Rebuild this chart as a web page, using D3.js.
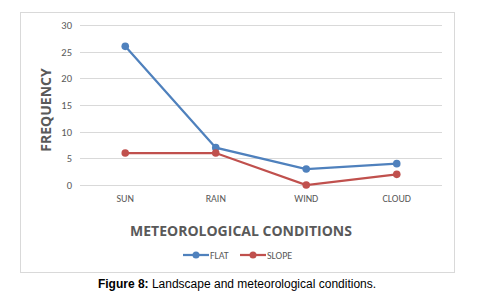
<!DOCTYPE html>
<html>
<head>
<meta charset="utf-8">
<script src="https://cdn.jsdelivr.net/npm/d3@7"></script>
<style>
  body { margin: 0; background: #fff; }
  svg { display: block; }
</style>
</head>
<body>
<div id="chart"></div>
<script>
// chart data
const categories = ["SUN", "RAIN", "WIND", "CLOUD"];
const flatValues = [26, 7, 3, 4];
const slopeValues = [6, 6, 0, 2];
const yTicks = [0, 5, 10, 15, 20, 25, 30];
const seriesNames = ["FLAT", "SLOPE"];

const width = 478, height = 296;
const svg = d3.select("#chart").append("svg")
    .attr("width", width)
    .attr("height", height);

// chart frame
svg.append("rect")
    .attr("x", 20.5).attr("y", 12.5)
    .attr("width", 434).attr("height", 260)
    .attr("fill", "#fff")
    .attr("stroke", "#d9d9d9")
    .attr("stroke-width", 1);

const x = d3.scaleBand().domain(categories).range([80, 442]);
const y = d3.scaleLinear().domain([0, 30]).range([185, 25]);

// gridlines
svg.append("g")
    .selectAll("line")
    .data(yTicks)
    .join("line")
    .attr("x1", 80).attr("x2", 442)
    .attr("y1", d => Math.round(y(d)) + 0.5)
    .attr("y2", d => Math.round(y(d)) + 0.5)
    .attr("stroke", "#d9d9d9");

// y axis labels
const yAxis = d3.axisLeft(y).tickValues(yTicks).tickSize(0).tickPadding(0);
svg.append("g")
    .attr("transform", "translate(72,0)")
    .call(yAxis)
    .call(g => g.select(".domain").remove())
    .call(g => g.selectAll("text")
        .attr("fill", "#595959")
        .style("font-family", "Calibri, Carlito, 'Open Sans', sans-serif")
        .style("font-size", "10.5px"));

// x axis labels
const xAxis = d3.axisBottom(x).tickSize(0).tickPadding(0);
svg.append("g")
    .attr("transform", "translate(0,195)")
    .call(xAxis)
    .call(g => g.select(".domain").remove())
    .call(g => g.selectAll("text")
        .attr("fill", "#595959")
        .style("font-family", "Calibri, Carlito, 'Open Sans', sans-serif")
        .style("font-size", "10px"));

// axis titles
svg.append("text")
    .attr("transform", "translate(51,110) rotate(-90)")
    .attr("text-anchor", "middle")
    .attr("fill", "#595959")
    .style("font-family", "'Open Sans', sans-serif")
    .style("font-size", "14px")
    .style("font-weight", "bold")
    .text("FREQUENCY");

svg.append("text")
    .attr("x", 241).attr("y", 236)
    .attr("text-anchor", "middle")
    .attr("fill", "#595959")
    .style("font-family", "'Open Sans', sans-serif")
    .style("font-size", "14px")
    .style("font-weight", "bold")
    .text("METEOROLOGICAL CONDITIONS");

// series
const colors = { FLAT: "#4f81bd", SLOPE: "#c0504d" };
const series = [
    { name: "FLAT", values: flatValues },
    { name: "SLOPE", values: slopeValues }
];
const cx = c => x(c) + x.bandwidth() / 2;
const line = d3.line()
    .x((d, i) => cx(categories[i]))
    .y(d => y(d));

series.forEach(s => {
    svg.append("path")
        .datum(s.values)
        .attr("d", line)
        .attr("fill", "none")
        .attr("stroke", colors[s.name])
        .attr("stroke-width", 2.25);
    svg.append("g")
        .selectAll("circle")
        .data(s.values)
        .join("circle")
        .attr("cx", (d, i) => cx(categories[i]))
        .attr("cy", d => y(d))
        .attr("r", 3.8)
        .attr("fill", colors[s.name]);
});

// legend
const legend = svg.append("g").attr("transform", "translate(183,255)");
seriesNames.forEach((name, i) => {
    const g = legend.append("g").attr("transform", `translate(${i * 57},0)`);
    g.append("line")
        .attr("x1", 0).attr("x2", 26)
        .attr("stroke", colors[name])
        .attr("stroke-width", 2.25);
    g.append("circle").attr("cx", 13).attr("r", 3.5).attr("fill", colors[name]);
    g.append("text")
        .attr("x", 27).attr("y", 3.5)
        .attr("fill", "#595959")
        .style("font-family", "Calibri, Carlito, 'Open Sans', sans-serif")
        .style("font-size", "10px")
        .text(name);
});

// caption
const caption = svg.append("text")
    .attr("x", 237).attr("y", 288)
    .attr("text-anchor", "middle")
    .attr("fill", "#000")
    .style("font-family", "Arial, 'Liberation Sans', sans-serif")
    .style("font-size", "12px");
caption.append("tspan").style("font-weight", "bold").text("Figure 8:");
caption.append("tspan").text(" Landscape and meteorological conditions.");
</script>
</body>
</html>
